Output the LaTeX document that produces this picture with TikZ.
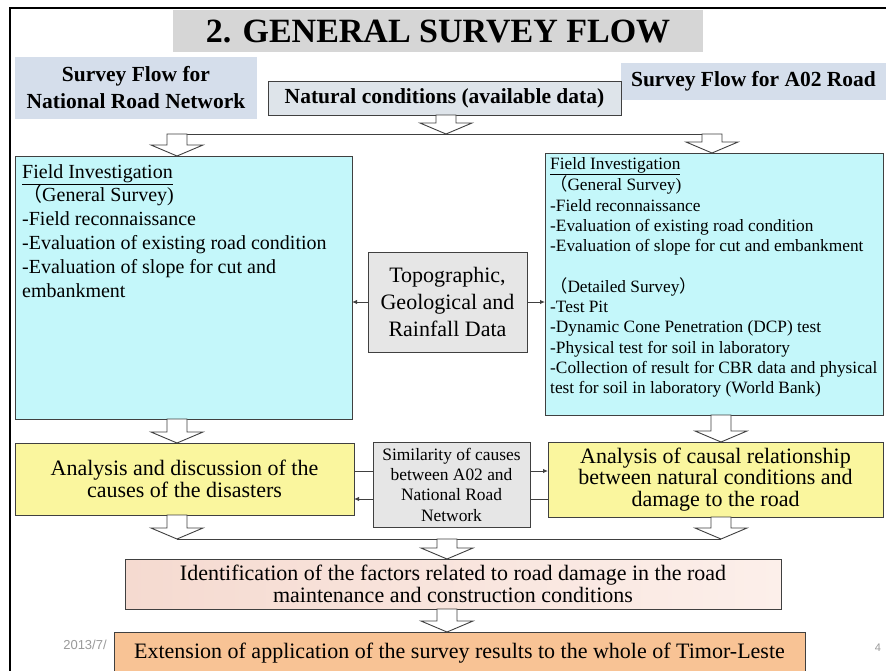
\documentclass[tikz,border=0pt]{standalone}
\usepackage{fontspec}
\setmainfont{Liberation Serif}
\newfontfamily\sansf{Liberation Sans}
\newfontfamily\cjk{Noto Sans CJK JP}
\usetikzlibrary{arrows.meta,calc}
\definecolor{bord}{HTML}{404040}
\definecolor{titlebg}{HTML}{D6D6D6}
\definecolor{labelbg}{HTML}{D5DEEB}
\definecolor{natbg}{HTML}{DEE4EA}
\definecolor{cyanbg}{HTML}{C4F7FA}
\definecolor{graybg}{HTML}{E6E6E6}
\definecolor{yellowbg}{HTML}{FAF69E}
\definecolor{pinkL}{HTML}{F5DAD0}
\definecolor{pinkR}{HTML}{FCEFEA}
\definecolor{orangebg}{HTML}{F8C395}
\definecolor{footgray}{HTML}{9A9A9A}
\tikzset{
  box/.style={draw=bord, line width=1pt, inner sep=0pt, outer sep=0pt},
  hollow/.style={draw=bord, line width=0.9pt, fill=white, line join=miter},
  conn/.style={draw=bord, line width=1pt},
  smallarrow/.style={conn, -{Latex[length=5pt,width=4.5pt]}},
  maintext/.style={font=\fontsize{22}{21.5}\selectfont, align=center},
}
\newcommand\harrow[2]{%
  \draw[hollow] let \p1=#1, \p2=#2 in
    (\x2-10pt,\y1) -- (\x2-10pt,\y2+11pt) -- (\x2-26pt,\y2+11pt) -- (\x2,\y2)
    -- (\x2+26pt,\y2+11pt) -- (\x2+10pt,\y2+11pt) -- (\x2+10pt,\y1) -- cycle;}
\begin{document}
\begin{tikzpicture}[x=1pt,y=-1pt]
\useasboundingbox (0,0) rectangle (886,670);
\fill[white] (0,0) rectangle (886,670);
% frame
\draw[black, line width=1.8pt] (10,690) -- (10,8) -- (900,8);

% title and labels
\node[fill=titlebg, minimum width=530pt, minimum height=42pt, inner sep=0pt,
      font=\bfseries\fontsize{34}{34}\selectfont] (title) at (438,31) {2. GENERAL SURVEY FLOW};
\node[fill=labelbg, minimum width=242pt, minimum height=62pt, inner sep=0pt, align=center,
      font=\bfseries\fontsize{21.5}{27}\selectfont] (lnet) at (136,88) {Survey Flow for\\National Road Network};
\node[fill=labelbg, minimum width=265pt, minimum height=37pt, inner sep=0pt,
      font=\bfseries\fontsize{21.5}{27}\selectfont] (la02) at (753.5,81.5) {Survey Flow for A02 Road};
\node[box, fill=natbg, minimum width=353pt, minimum height=34pt,
      font=\bfseries\fontsize{21.5}{27}\selectfont] (nat) at (444.5,98) {Natural conditions (available data)};

% field boxes
\node[box, fill=cyanbg, minimum width=337pt, minimum height=263pt] (lfield) at (183.5,287.5) {};
\node[box, fill=cyanbg, minimum width=338pt, minimum height=262pt] (rfield) at (714,284) {};
\node[anchor=north west, inner sep=0pt, align=left, font=\fontsize{20}{23.8}\selectfont] (ltxt) at (22,164)
 {\underline{Field Investigation}\\
  {\cjk （}General Survey)\\
  -Field reconnaissance\\
  -Evaluation of existing road condition\\
  -Evaluation of slope for cut and\\
  embankment};
\node[anchor=north west, inner sep=0pt, align=left, font=\fontsize{17.3}{20.3}\selectfont] (rtxt) at (550,157)
 {\underline{Field Investigation}\\
  {\cjk （}General Survey)\\
  -Field reconnaissance\\
  -Evaluation of existing road condition\\
  -Evaluation of slope for cut and embankment\\[20.3pt]
  {\cjk （}Detailed Survey{\cjk ）}\\
  -Test Pit\\
  -Dynamic Cone Penetration (DCP) test\\
  -Physical test for soil in laboratory\\
  -Collection of result for CBR data and physical\\
  test for soil in laboratory (World Bank)};

\node[box, fill=graybg, minimum width=159pt, minimum height=100pt, align=center,
      font=\fontsize{22}{27}\selectfont] (topo) at (447.5,302) {Topographic,\\Geological and\\Rainfall Data};

% analysis boxes
\node[box, fill=yellowbg, minimum width=339pt, minimum height=72pt, maintext] (ly) at (184.5,479)
 {Analysis and discussion of the\\causes of the disasters};
\node[box, fill=yellowbg, minimum width=335pt, minimum height=75pt, maintext] (ry) at (715.5,479.5)
 {Analysis of causal relationship\\between natural conditions and\\damage to the road};
\node[box, fill=graybg, minimum width=157pt, minimum height=85pt, align=center,
      font=\fontsize{17.4}{20.3}\selectfont] (sim) at (451.5,484.5)
 {Similarity of causes\\between A02 and\\National Road\\Network};

\node[box, left color=pinkL, right color=pinkR, minimum width=656pt, minimum height=50pt, maintext] (ident) at (453,584)
 {Identification of the factors related to road damage in the road\\maintenance and construction conditions};
\node[box, fill=orangebg, minimum width=691pt, minimum height=42pt, maintext] (ext) at (459.5,653)
 {Extension of application of the survey results to the whole of Timor-Leste};

% footer
\node[text=footgray, font=\sansf\fontsize{13}{13}\selectfont, inner sep=0pt] (date) at (85,645) {2013/7/};
\node[text=footgray, font=\sansf\fontsize{11}{11}\selectfont, inner sep=0pt] (page) at (878,648) {4};

% connectors for data boxes
\draw[smallarrow] (topo.west) -- (lfield.east |- topo.west);
\draw[smallarrow] (topo.east) -- (rfield.west |- topo.east);
\coordinate (s1) at ([yshift=13.5pt]sim.west);
\coordinate (s2) at ([yshift=-14.5pt]sim.west);
\draw[conn] (ly.east |- s1) -- (s1);
\draw[smallarrow] (sim.east |- s1) -- (ry.west |- s1);
\draw[conn] (ry.west |- s2) -- (sim.east |- s2);
\draw[smallarrow] (s2) -- (ly.east |- s2);

% bars and hollow arrows
\coordinate (barL) at (177,134);
\coordinate (barR) at (712,134);
\coordinate (barM) at (446,134);
\coordinate (bL) at (177,539);
\coordinate (bR) at (721,539);
\coordinate (bM) at (447,539);
\draw[conn] ([xshift=-10pt]barL) -- ([xshift=10pt]barR);
\draw[conn] (bL) -- (bR);
\harrow{(nat.south -| barM)}{(barM)}
\harrow{(barL)}{(lfield.north -| barL)}
\harrow{(barR)}{(rfield.north -| barR)}
\harrow{(lfield.south -| barL)}{(ly.north -| barL)}
\harrow{(rfield.south -| bR)}{(ry.north -| bR)}
\harrow{(ly.south -| bL)}{(bL)}
\harrow{(ry.south -| bR)}{(bR)}
\harrow{(bM)}{(ident.north -| bM)}
\harrow{(ident.south -| bM)}{(ext.north -| bM)}
\end{tikzpicture}
\end{document}
